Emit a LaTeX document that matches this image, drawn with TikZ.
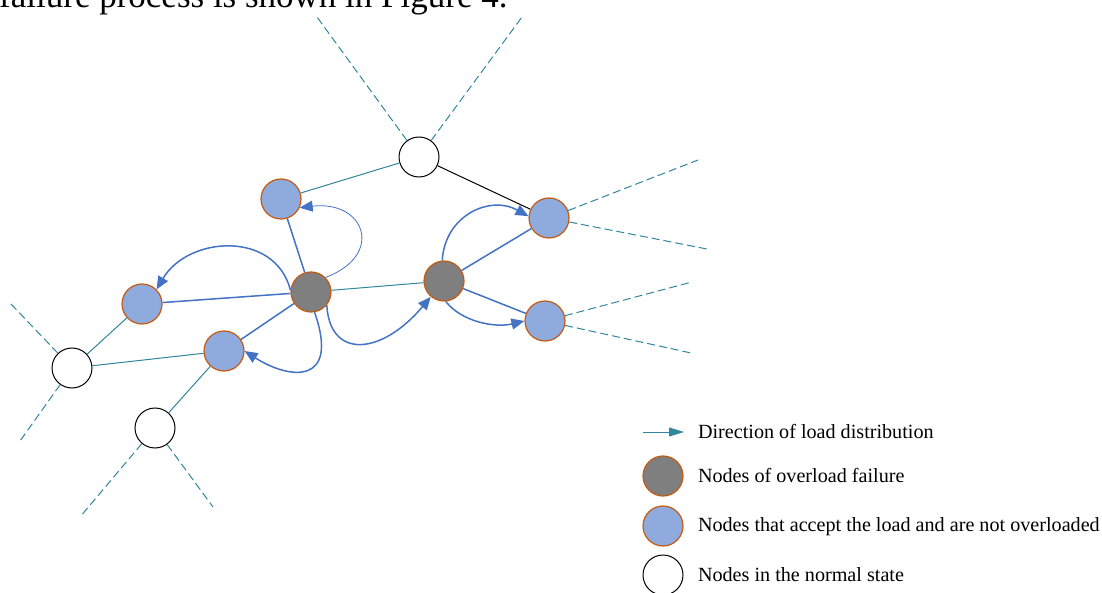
\documentclass[tikz,border=0pt]{standalone}
\usepackage{fontspec}
\setmainfont{Liberation Serif}
\usetikzlibrary{arrows.meta}
\definecolor{loadblue}{RGB}{68,114,196}
\definecolor{linkteal}{RGB}{49,133,156}
\definecolor{accblue}{RGB}{143,170,220}
\definecolor{rimorange}{RGB}{197,90,17}
\definecolor{failgray}{RGB}{127,127,127}

\begin{document}
\begin{tikzpicture}[x=1pt, y=-1pt, font=\fontsize{20.15}{24}\selectfont,
    >={Triangle[length=13pt,width=11pt]},
    netnode/.style={circle, minimum size=40pt, inner sep=0pt, line width=1.2pt},
    failnode/.style={netnode, draw=rimorange, fill=failgray},
    loadnode/.style={netnode, draw=rimorange, fill=accblue},
    normalnode/.style={netnode, draw=black, fill=white, line width=1pt},
    tealline/.style={linkteal, line width=1pt},
    blueline/.style={loadblue, line width=1.5pt},
    dashlink/.style={linkteal, line width=1pt, dash pattern=on 8pt off 4pt},
    loadarrow/.style={loadblue, line width=1.5pt, ->}]
\useasboundingbox (0,0) rectangle (1102,593);
\clip (0,0) rectangle (1102,593);

% Running text cut at the top of the page.
\node[anchor=base west, inner sep=0pt, font=\fontsize{35}{40}\selectfont] (caption) at (-1,8) {failure process is shown in Figure 4.};

% Network nodes.
\node[normalnode] (top) at (419,157) {};
\node[loadnode] (upleft) at (281,199) {};
\node[failnode] (failA) at (311,292) {};
\node[failnode] (failB) at (444,281) {};
\node[loadnode] (upright) at (549,218) {};
\node[loadnode] (lowright) at (545,321) {};
\node[loadnode] (farleft) at (142,304) {};
\node[loadnode] (midleft) at (224,351) {};
\node[normalnode] (edgeW) at (72,368) {};
\node[normalnode] (edgeS) at (155,428) {};

% Links to the rest of the network.
\coordinate (topNW) at (317,17);
\coordinate (topNE) at (522,17);
\coordinate (urA) at (698,160);
\coordinate (urB) at (707,249);
\coordinate (lrA) at (692,282);
\coordinate (lrB) at (691,353);
\coordinate (wA) at (10,303);
\coordinate (wB) at (20,441);
\coordinate (sA) at (80,517);
\coordinate (sB) at (213,507);
\foreach \from/\to in {top/topNW, top/topNE, upright/urA, upright/urB,
    lowright/lrA, lowright/lrB, edgeW/wA, edgeW/wB, edgeS/sA, edgeS/sB}{
    \draw[dashlink] (\from) -- (\to);
}

% Solid links.
\draw[tealline] (top) -- (upleft);
\draw[black, line width=1pt] (top) -- (upright);
\draw[tealline] (failA) -- (failB);
\draw[tealline] (farleft) -- (edgeW);
\draw[tealline] (midleft) -- (edgeW);
\draw[tealline] (midleft) -- (edgeS);
\foreach \from/\to in {failA/upleft, failA/farleft, failA/midleft, failB/upright, failB/lowright}{
    \draw[blueline] (\from) -- (\to);
}

% Load redistribution.
\draw[loadarrow] (failA.175) .. controls (275,230) and (188,236) .. (farleft.45);
\draw[loadarrow] (failA.-80) .. controls (340,385) and (290,380) .. (midleft.0);
\draw[loadarrow, line width=0.8pt] (failA.45) .. controls (385,255) and (365,200) .. (upleft.-25);
\draw[loadarrow] (failA.-40) .. controls (330,360) and (382,355) .. (failB.-130);
\draw[loadarrow] (failB.95) .. controls (445,215) and (490,195) .. (upright.175);
\draw[loadarrow] (failB.-85) .. controls (462,322) and (495,328) .. (lowright.180);

% Legend.
\coordinate (legArrowL) at (643,432);
\coordinate (legArrowR) at (684,432);
\draw[linkteal, line width=1pt, -{Triangle[length=15pt,width=9pt]}] (legArrowL) -- (legArrowR);
\node[anchor=west] (legArrowText) at (694.5,432) {Direction of load distribution};
\node[failnode] (legFail) at (663,476) {};
\node[anchor=west] (legFailText) at (694.5,476) {Nodes of overload failure};
\node[loadnode] (legLoad) at (663,526) {};
\node[anchor=west] (legLoadText) at (694.5,527) {Nodes that accept the load and are not overloaded};
\node[normalnode] (legNormal) at (663,575) {};
\node[anchor=west] (legNormalText) at (694.5,575) {Nodes in the normal state};
\end{tikzpicture}
\end{document}
